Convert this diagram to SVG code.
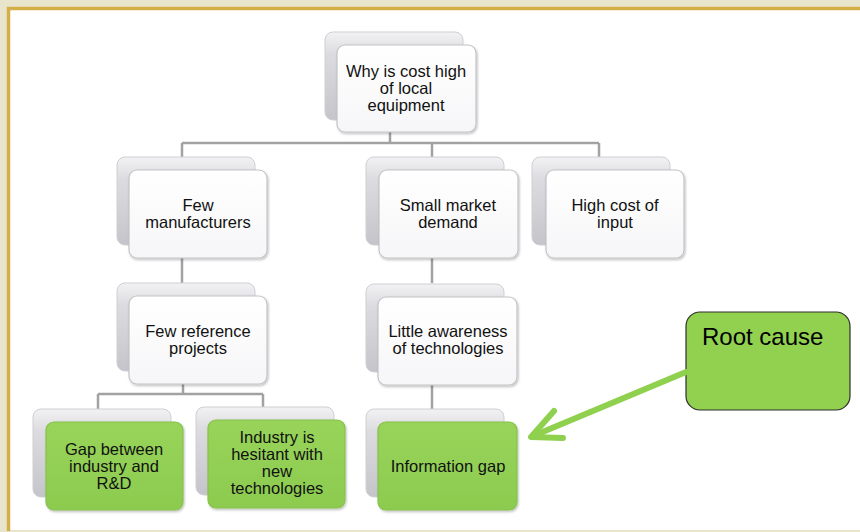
<svg xmlns="http://www.w3.org/2000/svg" width="860" height="532" viewBox="0 0 860 532">
<defs>
<linearGradient id="gBack" x1="0" y1="0" x2="0" y2="1">
<stop offset="0" stop-color="#f2f2f4"/>
<stop offset="0.25" stop-color="#dcdce0"/>
<stop offset="1" stop-color="#c4c4ca"/>
</linearGradient>
<linearGradient id="gFront" x1="0" y1="0" x2="0" y2="1">
<stop offset="0" stop-color="#ffffff"/>
<stop offset="1" stop-color="#f6f6f8"/>
</linearGradient>
<linearGradient id="gGreen" x1="0" y1="0" x2="0" y2="1">
<stop offset="0" stop-color="#98d45a"/>
<stop offset="1" stop-color="#8ccb4f"/>
</linearGradient>
<filter id="sh" x="-10%" y="-10%" width="125%" height="130%">
<feDropShadow dx="1" dy="1.5" stdDeviation="1.2" flood-color="#000" flood-opacity="0.25"/>
</filter>
</defs>
<style>
.back{fill:url(#gBack);stroke:#cfcfd4;stroke-width:1}
.front{fill:url(#gFront);stroke:#c4c4c8;stroke-width:1.2;filter:url(#sh)}
.green{fill:url(#gGreen);stroke:#86c24c;stroke-width:1.2;filter:url(#sh)}
.t{font-family:"Liberation Sans",Arial,sans-serif;font-size:16.5px;fill:#111;text-anchor:middle}
.conn{fill:none;stroke:#a2a2a2;stroke-width:2.5}
</style>
<rect x="0" y="0" width="860" height="532" fill="#e9e5cd"/>
<rect x="10" y="10" width="850" height="520" fill="#ffffff"/>
<path d="M8.5 531 V8.5 H860" fill="none" stroke="#d4ae48" stroke-width="3.5"/>

<g id="connectors">
<path class="conn" d="M390 125 V143 M182 143 H599 M182 143 V157 M432 143 V157 M599 143 V157"/>
<path class="conn" d="M182 255 V283"/>
<path class="conn" d="M432 255 V283"/>
<path class="conn" d="M183 380 V394 M98 394 H263 M98 394 V409 M263 394 V408"/>
<path class="conn" d="M432 380 V409"/>
</g>

<g id="root">
<rect class="back" x="325" y="32" width="138" height="88" rx="8"/>
<rect class="front" x="337" y="45" width="139" height="87" rx="8"/>
<text class="t"><tspan x="406" y="77">Why is cost high</tspan><tspan x="406" y="94">of local</tspan><tspan x="406" y="111">equipment</tspan></text>
</g>

<g id="few-manufacturers">
<rect class="back" x="117" y="157" width="138" height="88" rx="8"/>
<rect class="front" x="129" y="170" width="138" height="88" rx="8"/>
<text class="t"><tspan x="198" y="211">Few</tspan><tspan x="198" y="228">manufacturers</tspan></text>
</g>

<g id="small-market-demand">
<rect class="back" x="366" y="157" width="138" height="88" rx="8"/>
<rect class="front" x="379" y="170" width="139" height="88" rx="8"/>
<text class="t"><tspan x="448" y="211">Small market</tspan><tspan x="448" y="228">demand</tspan></text>
</g>

<g id="high-cost-of-input">
<rect class="back" x="532" y="157" width="138" height="88" rx="8"/>
<rect class="front" x="546" y="170" width="138" height="88" rx="8"/>
<text class="t"><tspan x="615" y="211">High cost of</tspan><tspan x="615" y="228">input</tspan></text>
</g>

<g id="few-reference-projects">
<rect class="back" x="117" y="283" width="138" height="88" rx="8"/>
<rect class="front" x="129" y="296" width="138" height="88" rx="8"/>
<text class="t"><tspan x="198" y="337">Few reference</tspan><tspan x="198" y="354">projects</tspan></text>
</g>

<g id="little-awareness">
<rect class="back" x="366" y="284" width="138" height="88" rx="8"/>
<rect class="front" x="378" y="297" width="139" height="88" rx="8"/>
<text class="t"><tspan x="448" y="337">Little awareness</tspan><tspan x="448" y="354">of technologies</tspan></text>
</g>

<g id="gap-industry-rd">
<rect class="back" x="33" y="409" width="138" height="88" rx="8"/>
<rect class="green" x="46" y="422" width="137" height="88" rx="8"/>
<text class="t"><tspan x="114" y="455">Gap between</tspan><tspan x="114" y="472">industry and</tspan><tspan x="114" y="489">R&amp;D</tspan></text>
</g>

<g id="industry-hesitant">
<rect class="back" x="196" y="407" width="138" height="88" rx="8"/>
<rect class="green" x="208" y="420" width="137" height="88" rx="8"/>
<text class="t"><tspan x="277" y="443">Industry is</tspan><tspan x="277" y="460">hesitant with</tspan><tspan x="277" y="477">new</tspan><tspan x="277" y="494">technologies</tspan></text>
</g>

<g id="information-gap">
<rect class="back" x="366" y="409" width="138" height="88" rx="8"/>
<rect class="green" x="378" y="422" width="139" height="88" rx="8"/>
<text class="t"><tspan x="448" y="472">Information gap</tspan></text>
</g>

<g id="root-cause">
<rect x="686" y="312" width="164" height="98" rx="14" fill="#92d050" stroke="#2e2e2e" stroke-width="1.2"/>
<text x="702" y="345" font-family="Liberation Sans, Arial, sans-serif" font-size="24" fill="#000">Root cause</text>
</g>

<g id="root-cause-arrow" fill="none" stroke="#8fd14f" stroke-width="6" stroke-linecap="round" stroke-linejoin="round">
<path d="M686 372 L533 436"/>
<path d="M554 411 L531 437 L563 438"/>
</g>
</svg>
